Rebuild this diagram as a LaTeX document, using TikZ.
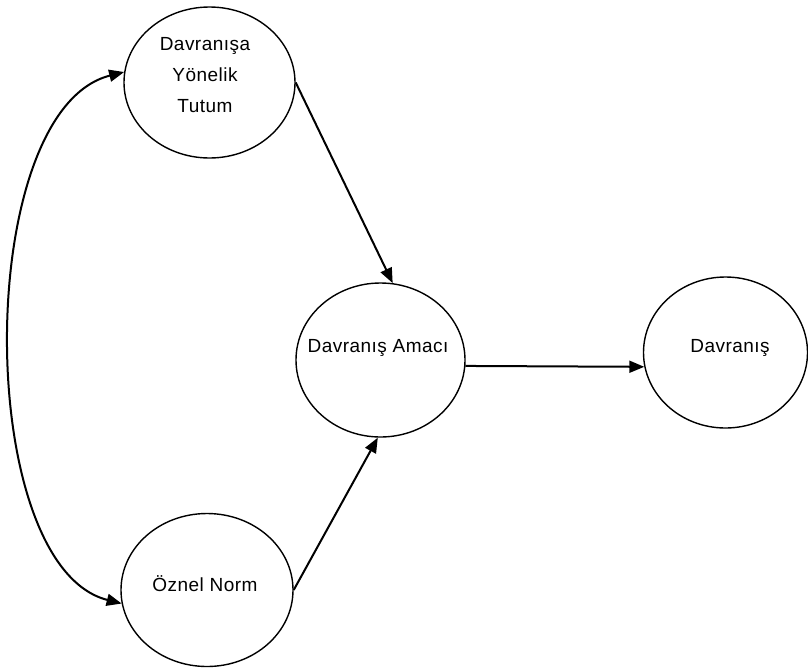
\documentclass[tikz,border=0pt]{standalone}
\usepackage{fontspec}
\setmainfont{Liberation Sans}[LetterSpace=2.5]
\usetikzlibrary{arrows.meta,shapes.geometric}
\begin{document}
\begin{tikzpicture}[x=1pt,y=-1pt,
  ell/.style={draw,ellipse,line width=1.4pt,inner sep=0pt},
  txt/.style={anchor=base,inner sep=0pt,align=center,font=\fontsize{19}{31}\selectfont},
  conn/.style={line width=2pt,-{Triangle[length=15pt,width=12pt]}},
  conn2/.style={line width=2pt,{Triangle[length=15pt,width=12pt]}-{Triangle[length=15pt,width=12pt]}}]
\useasboundingbox (0,0) rectangle (808,670);
\node[ell,minimum width=171pt,minimum height=151pt] (top) at (209.5,82.5) {};
\node[ell,minimum width=169pt,minimum height=154pt] (mid) at (380.5,360) {};
\node[ell,minimum width=164pt,minimum height=151pt] (right) at (725.5,352.5) {};
\node[ell,minimum width=172pt,minimum height=153pt] (bot) at (207,590) {};
\node[txt,yshift=-29.5pt] (topt) at (205,82.5) {Davranışa\\Yönelik\\Tutum};
\node[txt,yshift=8pt] (midt) at (378,360) {Davranış Amacı};
\node[txt,yshift=0.5pt] (rightt) at (730,352.5) {Davranış};
\node[txt,yshift=-1pt] (bott) at (205,590) {Öznel Norm};
\draw[conn] (top.east) -- (mid.81);
\draw[conn] (bot.east) -- (mid.268);
\draw[conn] (mid.-4) -- (right.190);
\draw[conn2] (top.173) .. controls (-27,110) and (-27,566) .. (bot.189);
\end{tikzpicture}
\end{document}
